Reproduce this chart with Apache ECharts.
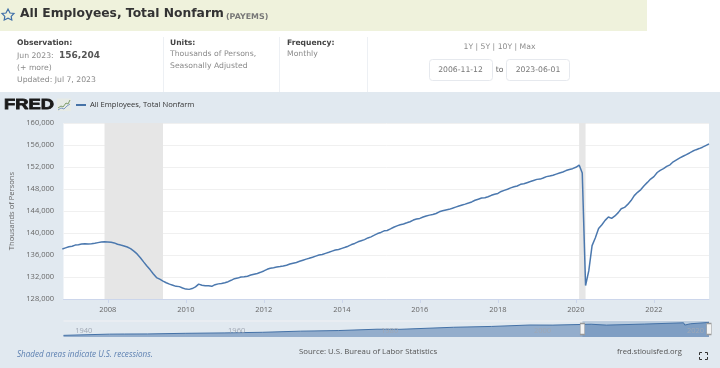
<!DOCTYPE html>
<html><head><meta charset="utf-8">
<style>html,body{margin:0;padding:0;background:#e1e9f0}#c{width:720px;height:368px}</style>
<script src="https://cdn.jsdelivr.net/npm/echarts@6/dist/echarts.min.js"></script>
</head><body><div id="c"></div>
<script>
const seriesName = 'All Employees, Total Nonfarm';
const startYear = 2006, startMonth = 10; // first observation: Nov 2006
const payems = [
 137100,137300,
 137500,137600,137800,137850,138000,138050,138000,138050,138150,138250,138350,138400,
 138380,138300,138200,137950,137800,137650,137450,137150,136700,136200,135500,134750,
 134000,133300,132600,131900,131600,131250,130950,130700,130500,130300,130250,130000,
 129800,129750,129900,130200,130700,130500,130400,130400,130300,130600,130750,130800,
 130950,131150,131400,131700,131800,132000,132050,132150,132350,132500,132650,132850,
 133100,133400,133600,133700,133800,133900,134000,134150,134350,134500,134650,134850,
 135050,135250,135400,135600,135800,136000,136100,136300,136500,136700,136900,137000,
 137200,137400,137600,137900,138100,138400,138600,138800,139100,139300,139600,139900,
 140100,140400,140450,140750,141050,141300,141500,141650,141850,142050,142350,142550,
 142650,142900,143100,143250,143350,143550,143850,144050,144200,144300,144500,144700,
 144900,145100,145250,145450,145650,145950,146150,146350,146400,146600,146850,147050,
 147200,147550,147750,147950,148200,148400,148550,148850,148950,149150,149350,149550,
 149750,149800,150000,150250,150350,150500,150700,150900,151100,151350,151550,151700,
 151950,152350,150900,130450,133100,137700,139100,140800,141500,142300,142900,142650,
 143100,143700,144400,144650,145200,145900,146800,147400,147900,148600,149200,149800,
 150250,151000,151400,151700,152100,152400,152950,153300,153650,153950,154250,154550,
 154900,155150,155350,155600,155900,156204
];
const payemsDates = payems.map((_, i) => Date.UTC(startYear, startMonth + i, 1));
const t = s => Date.parse(s + 'T00:00:00Z');
const axisStart = t('2006-11-12'), axisEnd = t('2023-06-01');
const yTicks = { min: 128000, max: 160000, step: 4000 };
const xTickDates = ['2008-01-01','2010-01-01','2012-01-01','2014-01-01','2016-01-01','2018-01-01','2020-01-01','2022-01-01'];
const recessions = [['2007-12-01','2009-06-01'],['2020-02-01','2020-04-01']];
const navDates = ['1939-01-01','1945-01-01','1947-01-01','1950-01-01','1955-01-01','1960-01-01','1965-01-01','1970-01-01','1975-01-01','1980-01-01','1983-01-01','1990-01-01','1995-01-01','2000-01-01','2003-01-01','2008-01-01','2010-01-01','2015-01-01','2020-02-01','2020-04-01','2021-01-01','2023-06-01'];
const navValues = [30000,42000,43000,44000,50000,54000,60000,71000,77000,90000,89000,109000,117000,131000,130000,138400,129800,140100,152350,130450,143100,156204];
const navTicks = ['1940-01-01','1960-01-01','1980-01-01','2000-01-01','2020-01-01'];

const F = 'Open Sans', V = 'DejaVu Sans';
const small = `7.7px "${V}"`, boldSmall = `bold 7.6px "${V}"`;
const yearLabel = v => String(new Date(v).getUTCFullYear());
const txt = (text, x, y, o) => ({ type:'text', x, y, silent:true, z:5,
  style:Object.assign({ text, fill:'#8a8a8a', font:small, textVerticalAlign:'middle' }, o||{}) });
const rect = (x,y,w,h,fill) => ({ type:'rect', silent:true, z:1, shape:{x,y,width:w,height:h}, style:{fill} });
const corner = (pts) => ({ type:'polyline', silent:true, z:5, shape:{points:pts}, style:{stroke:'#333',lineWidth:1,fill:null} });

const option = {
  animation:false,
  backgroundColor:'#e1e9f0',
  title:{ text:'All Employees, Total Nonfarm', left:20, top:7.5, padding:0, z:6,
    textStyle:{ fontFamily:V, fontSize:12.3, fontWeight:'bold', color:'#333' } },
  legend:{ show:true, left:76, top:101, padding:0, itemWidth:10, itemHeight:2, itemGap:4, icon:'rect',
    textStyle:{ fontFamily:F, fontSize:7.6, color:'#333', padding:[0,0,0,-1] }, data:[seriesName] },
  grid:[
    { left:63.5, right:11, top:123, height:176, backgroundColor:'#fff', show:true, borderWidth:0, outerBoundsMode:'none', containLabel:false },
    { left:63.5, right:11, top:321, height:16, show:false, outerBoundsMode:'none', containLabel:false }
  ],
  xAxis:[
    { type:'value', gridIndex:0, min:axisStart, max:axisEnd,
      axisLine:{ show:true, lineStyle:{ color:'#ccd6eb', width:1 } },
      axisTick:{ show:true, length:4, lineStyle:{ color:'#ccd6eb' }, customValues:xTickDates.map(t) },
      axisLabel:{ color:'#666', fontFamily:F, fontSize:7.5, margin:7, hideOverlap:false,
        customValues:xTickDates.map(t), formatter:yearLabel },
      splitLine:{ show:false } },
    { type:'value', gridIndex:1, min:t('1939-01-01'), max:axisEnd, z:5,
      axisLine:{ show:false }, axisTick:{ show:false }, splitLine:{ show:false },
      axisLabel:{ show:true, inside:true, margin:2, color:'#a0a8b4', fontFamily:F, fontSize:7.5, align:'left', hideOverlap:false,
        padding:[0,0,0,4], customValues:navTicks.map(t), formatter:yearLabel } }
  ],
  yAxis:[
    { type:'value', gridIndex:0, min:yTicks.min, max:yTicks.max, interval:yTicks.step,
      name:'Thousands of Persons', nameLocation:'middle', nameGap:48, nameRotate:90,
      nameTextStyle:{ color:'#666', fontFamily:F, fontSize:7.6 },
      axisLine:{ show:false }, axisTick:{ show:false },
      axisLabel:{ color:'#666', fontFamily:F, fontSize:7.5, margin:9.5,
        formatter:v=>v.toLocaleString('en-US') },
      splitLine:{ show:true, lineStyle:{ color:'#f0f0f0', width:1 } } },
    { type:'value', gridIndex:1, min:14000, max:170000, show:false, splitLine:{show:false} }
  ],
  series:[
    { name:seriesName, type:'line', xAxisIndex:0, yAxisIndex:0, showSymbol:false, smooth:false, z:4,
      itemStyle:{ color:'#4572a7' }, lineStyle:{ color:'#4b78ae', width:1.5 },
      data:payemsDates.map((d,i)=>[d,payems[i]]),
      markArea:{ silent:true, z:1, itemStyle:{ color:'#e6e6e6' }, label:{show:false},
        data:recessions.map(r=>[{xAxis:t(r[0])},{xAxis:t(r[1])}]) } },
    { name:'navigator', type:'line', xAxisIndex:1, yAxisIndex:1, showSymbol:false, z:3,
      lineStyle:{ color:'#4572a7', width:1 }, itemStyle:{ color:'#4572a7' },
      areaStyle:{ color:'#4572a7', opacity:0.5 },
      data:navDates.map((d,i)=>[t(d),navValues[i]]),
      markArea:{ silent:true, z:2, itemStyle:{ color:'rgba(69,114,167,0.25)' }, label:{show:false},
        data:[[{xAxis:axisStart},{xAxis:axisEnd}]] },
      markPoint:{ silent:true, symbol:'rect', symbolSize:[4.5,11], label:{show:false}, z:6,
        itemStyle:{ color:'#f4f4f4', borderColor:'#999', borderWidth:0.8 },
        data:[{coord:[axisStart,92000]},{coord:[axisEnd,92000]}] } }
  ],
  graphic:[
    rect(0,0,720,92,'#fff'),
    rect(0,0,647,31,'#eff2dc'),
    rect(163,37,1,55,'#edf0f4'), rect(279,37,1,55,'#edf0f4'), rect(367,37,1,55,'#edf0f4'),
    { type:'polygon', silent:true, z:5, shape:{ points:[[8,9],[10,13],[14,13.5],[11.2,16.4],[11.8,20],[8,18.2],[4.2,20],[4.8,16.4],[2,13.5],[6,13]] },
      style:{ fill:'none', stroke:'#3f6fa8', lineWidth:1.2 } },
    txt('(PAYEMS)',226,16.5,{ font:`bold 7.9px "${V}"`, fill:'#777' }),
    txt('Observation:',17,43,{ font:boldSmall, fill:'#444' }),
    txt('Jun 2023:',17,56),
    txt('156,204',59,55.5,{ font:`bold 9px "${V}"`, fill:'#555' }),
    txt('(+ more)',17,68),
    txt('Updated: Jul 7, 2023',17,80),
    txt('Units:',170,43,{ font:boldSmall, fill:'#444' }),
    txt('Thousands of Persons,',170,54.5),
    txt('Seasonally Adjusted',170,66),
    txt('Frequency:',287,43,{ font:boldSmall, fill:'#444' }),
    txt('Monthly',287,54.5),
    txt('1Y | 5Y | 10Y | Max',499.5,47.5,{ textAlign:'center' }),
    { type:'rect', silent:true, z:2, shape:{x:429.5,y:59.5,width:63,height:21,r:3}, style:{fill:'#fff',stroke:'#e6e9ee',lineWidth:1} },
    { type:'rect', silent:true, z:2, shape:{x:506.5,y:59.5,width:63,height:21,r:3}, style:{fill:'#fff',stroke:'#e6e9ee',lineWidth:1} },
    txt('2006-11-12',460.5,70.5,{ textAlign:'center', fill:'#777' }),
    txt('to',499.5,70.5,{ textAlign:'center', fill:'#666' }),
    txt('2023-06-01',538,70.5,{ textAlign:'center', fill:'#777' }),
    { type:'text', x:4, y:104.5, scaleX:1.2, silent:true, z:5,
      style:{ text:'FRED', font:`900 15.3px "Liberation Sans"`, fill:'#1a1a1a', stroke:'#1a1a1a', lineWidth:0.8, textVerticalAlign:'middle' } },
    rect(57,98.5,14,12.5,'#e7ebe6'),
    { type:'polyline', silent:true, z:5, shape:{points:[[58,108],[61,106],[63,107],[66,103],[68,104],[70,100]]}, style:{stroke:'#7e9c6a',lineWidth:1,fill:null} },
    { type:'polyline', silent:true, z:5, shape:{points:[[58,110],[61,108],[64,109],[67,106],[70,104]]}, style:{stroke:'#7f9cc0',lineWidth:1,fill:null} },
    rect(63.5,320,645.5,2,'#e9edf2'),
    txt('Shaded areas indicate U.S. recessions.',17,355,{ font:`italic 8.1px "${F}"`, fill:'#5b7fb0' }),
    txt('Source: U.S. Bureau of Labor Statistics',299,352,{ font:`7.8px "${F}"`, fill:'#555' }),
    txt('fred.stlouisfed.org',617,352,{ font:`7.6px "${F}"`, fill:'#555' }),
    corner([[699.5,355],[699.5,352.5],[702,352.5]]), corner([[705,352.5],[707.5,352.5],[707.5,355]]),
    corner([[699.5,357],[699.5,359.5],[702,359.5]]), corner([[705,359.5],[707.5,359.5],[707.5,357]])
  ]
};
const chart = echarts.init(document.getElementById('c'), null, { width:720, height:368, renderer:'canvas' });
chart.setOption(option);
</script></body></html>
